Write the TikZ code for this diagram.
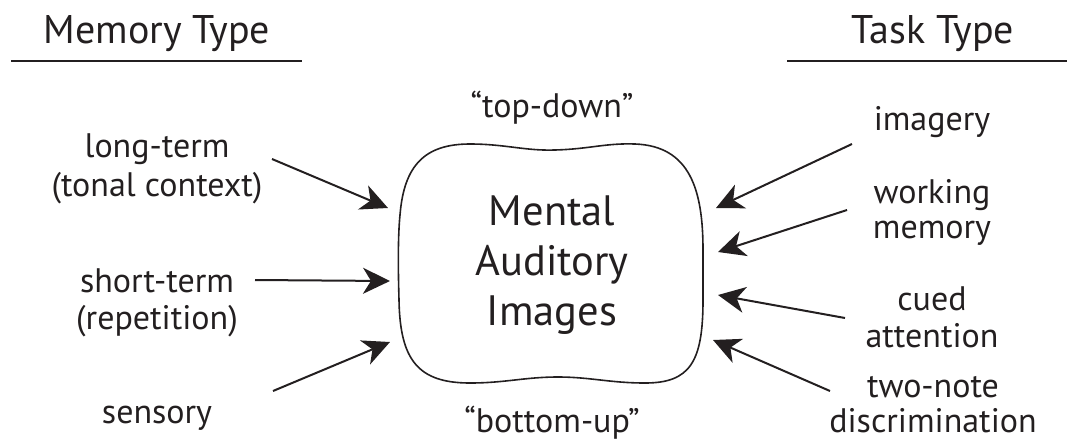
\documentclass[tikz,border=0pt]{standalone}
\usepackage{fontspec}
\setmainfont{PT Sans}
\usetikzlibrary{arrows.meta}
\definecolor{ink}{HTML}{231F20}
\begin{document}
\begin{tikzpicture}[x=1pt,y=-1pt,
 lbl/.style={text=ink, font=\fontsize{34}{37}\selectfont, inner sep=0pt, anchor=base},
 hdr/.style={text=ink, font=\fontsize{40}{44}\selectfont, inner sep=0pt, anchor=base},
 big/.style={text=ink, font=\fontsize{42.5}{51}\selectfont, inner sep=0pt, anchor=base},
 rulel/.style={draw=ink, line width=2.6pt},
 arr/.style={draw=ink, line width=2pt, -{Stealth[length=27pt,width=26pt,inset=8pt]}},
 blob/.style={draw=ink, line width=1.6pt}]
\useasboundingbox (0,0) rectangle (1067,442);
% headers
\node[hdr] (mt) at (157,43) {Memory Type};
\node[hdr] (tt) at (933,43) {Task Type};
\coordinate (r1a) at (11,61); \coordinate (r1b) at (302,61);
\coordinate (r2a) at (787,61); \coordinate (r2b) at (1067,61);
\draw[rulel] (r1a) -- (r1b);
\draw[rulel] (r2a) -- (r2b);
% central blob
\draw[blob] (470,144) .. controls (505,144) and (525,151) .. (555,150)
  .. controls (590,149) and (605,143) .. (635,144)
  .. controls (690,146) and (703,190) .. (703,250)
  -- (703,300)
  .. controls (703,362) and (690,383) .. (645,383)
  .. controls (610,383) and (590,377) .. (558,377)
  .. controls (525,377) and (505,383) .. (470,383)
  .. controls (418,383) and (400,360) .. (399,300)
  .. controls (398,265) and (398,235) .. (400,215)
  .. controls (404,165) and (425,144) .. (470,144) -- cycle;
\node[big] (m1) at (552,225) {Mental};
\node[big] (m2) at (552,275) {Auditory};
\node[big] (m3) at (552,325) {Images};
\node[lbl] (td) at (552,117) {“top-down”};
\node[lbl] (bu) at (552,432) {“bottom-up”};
% left labels
\node[lbl] (lt1) at (157,157) {long-term};
\node[lbl] (lt2) at (157,196) {(tonal context)};
\node[lbl] (st1) at (157,292) {short-term};
\node[lbl] (st2) at (157,329) {(repetition)};
\node[lbl] (se) at (157,423) {sensory};
% right labels
\node[lbl] (im) at (932,130) {imagery};
\node[lbl] (wm1) at (932,203) {working};
\node[lbl] (wm2) at (932,238) {memory};
\node[lbl] (ca1) at (932,310) {cued};
\node[lbl] (ca2) at (932,347) {attention};
\node[lbl] (tn1) at (933,397) {two-note};
\node[lbl] (tn2) at (933,432) {discrimination};
% arrow endpoints
\coordinate (a1s) at (272,159); \coordinate (a1e) at (388,208);
\coordinate (a2s) at (255,280); \coordinate (a2e) at (390,281);
\coordinate (a3s) at (273,391); \coordinate (a3e) at (390,342);
\coordinate (b1s) at (852,144); \coordinate (b1e) at (716,208);
\coordinate (b2s) at (847,210); \coordinate (b2e) at (718,252);
\coordinate (b3s) at (845,318); \coordinate (b3e) at (718,295);
\coordinate (b4s) at (830,391); \coordinate (b4e) at (713,340);
\draw[arr] (a1s) -- (a1e);
\draw[arr] (a2s) -- (a2e);
\draw[arr] (a3s) -- (a3e);
\draw[arr] (b1s) -- (b1e);
\draw[arr] (b2s) -- (b2e);
\draw[arr] (b3s) -- (b3e);
\draw[arr] (b4s) -- (b4e);
\end{tikzpicture}
\end{document}
